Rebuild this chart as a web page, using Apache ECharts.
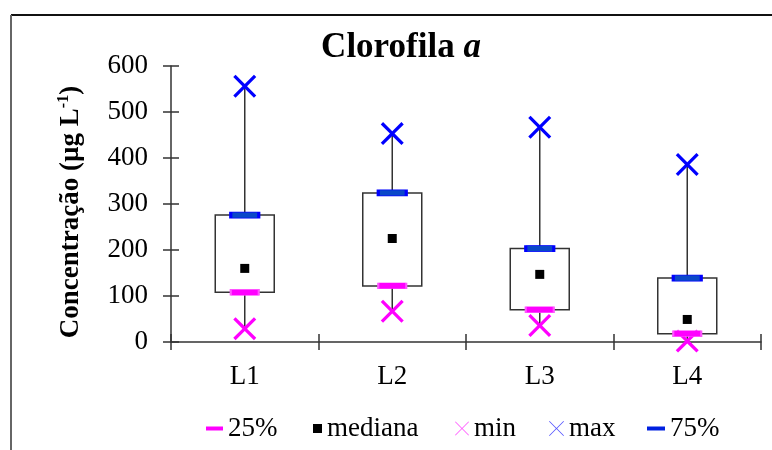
<!DOCTYPE html>
<html>
<head>
<meta charset="utf-8">
<script src="https://cdn.jsdelivr.net/npm/echarts@6/dist/echarts.min.js"></script>
<style>html,body{margin:0;padding:0;background:#fff}#c{width:772px;height:450px}</style>
</head>
<body>
<div id="c"></div>
<script>
var categories = ['L1', 'L2', 'L3', 'L4'];
var p25 = [108, 122, 70, 18];
var p75 = [276, 324, 203, 139];
var mediana = [160, 225, 147, 49];
var minV = [29, 67, 36, 2];
var maxV = [556, 453, 467, 386];
var yTicks = [0, 100, 200, 300, 400, 500, 600];

var FONT = '"Liberation Serif", "Times New Roman", serif';
var X_BIG = 'path://M0,2L2,0L10,8L18,0L20,2L12,10L20,18L18,20L10,12L2,20L0,18L8,10Z';
var X_THIN = 'path://M0,0.8L0.8,0L10,9.2L19.2,0L20,0.8L10.8,10L20,19.2L19.2,20L10,10.8L0.8,20L0,19.2L9.2,10Z';

var boxData = categories.map(function (c, i) { return [i, minV[i], p25[i], p75[i], maxV[i]]; });

var chart = echarts.init(document.getElementById('c'), null, {renderer: 'canvas'});

function legendItem(name, left, icon, w, h, color) {
  return {
    left: left, top: 415, padding: 0, itemGap: 0,
    itemWidth: w, itemHeight: h,
    data: [{name: name, icon: icon, itemStyle: {color: color, borderWidth: 0}}],
    textStyle: {fontFamily: FONT, fontSize: 27, color: '#000', padding: [0, 0, 0, 0]},
    selectedMode: false
  };
}

var option = {
  backgroundColor: '#fff',
  animation: false,
  title: {
    text: '{b|Clorofila }{i|a}',
    left: 396, top: 25, textAlign: 'center',
    textStyle: {
      rich: {
        b: {fontFamily: FONT, fontSize: 35, fontWeight: 'bold', color: '#000'},
        i: {fontFamily: FONT, fontSize: 35, fontWeight: 'bold', fontStyle: 'italic', color: '#000'}
      }
    }
  },
  graphic: [
    {type: 'line', shape: {x1: 11, y1: 15, x2: 772, y2: 15}, style: {stroke: '#111', lineWidth: 2}, silent: true},
    {type: 'line', shape: {x1: 11, y1: 15, x2: 11, y2: 450}, style: {stroke: '#666', lineWidth: 2}, silent: true}
  ],
  legend: [
    legendItem('25%', 206, 'rect', 17, 4, '#ff00ff'),
    legendItem('mediana', 313, 'rect', 9, 9, '#000'),
    legendItem('min', 455, X_THIN, 14, 14, '#ff55ff'),
    legendItem('max', 549, X_THIN, 15, 15, '#5555ff'),
    legendItem('75%', 647, 'rect', 18, 4, '#0020e0')
  ],
  grid: [
    {left: 171, right: 11, top: 66, bottom: 108},
    {left: 171, right: 11, top: 66, bottom: 108}
  ],
  xAxis: [
    {
      type: 'category', data: categories, gridIndex: 0,
      axisLine: {lineStyle: {color: '#333', width: 1.5}},
      axisTick: {show: true, length: 8, lineStyle: {color: '#333', width: 1.5}},
      axisLabel: {fontFamily: FONT, fontSize: 27, color: '#000', margin: 21},
      splitLine: {show: false}
    },
    {
      type: 'category', data: categories, gridIndex: 1,
      axisLine: {show: false},
      axisTick: {show: true, inside: true, length: 8, lineStyle: {color: '#333', width: 1.5}},
      axisLabel: {show: false},
      splitLine: {show: false}
    }
  ],
  yAxis: [
    {
      type: 'value', min: 0, max: 600, interval: 100, gridIndex: 0,
      axisLine: {show: true, lineStyle: {color: '#333', width: 1.5}},
      axisTick: {show: true, length: 8, lineStyle: {color: '#333', width: 1.5}},
      axisLabel: {fontFamily: FONT, fontSize: 27, color: '#000', margin: 23,
        formatter: function (v) { return yTicks.indexOf(v) >= 0 ? String(v) : ''; }},
      splitLine: {show: false},
      name: '{a|Concentração (µg L}{s|-1}{a|)}',
      nameLocation: 'middle', nameRotate: 90, nameGap: 85,
      nameTextStyle: {
        padding: [0, 16, 0, 0],
        rich: {
          a: {fontFamily: FONT, fontSize: 27, fontWeight: 'bold', color: '#000', lineHeight: 30},
          s: {fontFamily: FONT, fontSize: 16, fontWeight: 'bold', color: '#000', verticalAlign: 'top', lineHeight: 30}
        }
      }
    },
    {
      type: 'value', min: 0, max: 600, interval: 100, gridIndex: 1,
      axisLine: {show: false},
      axisTick: {show: true, inside: true, length: 8, lineStyle: {color: '#333', width: 1.5}},
      axisLabel: {show: false},
      splitLine: {show: false}
    }
  ],
  series: [
    {
      type: 'custom', name: 'box', xAxisIndex: 0, yAxisIndex: 0, z: 1,
      data: boxData,
      encode: {x: 0, y: [1, 2, 3, 4]},
      renderItem: function (params, api) {
        var i = api.value(0);
        var pMin = api.coord([i, api.value(1)]);
        var pQ1 = api.coord([i, api.value(2)]);
        var pQ3 = api.coord([i, api.value(3)]);
        var pMax = api.coord([i, api.value(4)]);
        var w = api.size([1, 0])[0] * 0.4;
        var st = {stroke: '#333', lineWidth: 1.5, fill: null};
        return {
          type: 'group',
          children: [
            {type: 'line', shape: {x1: pMax[0], y1: pMax[1], x2: pQ3[0], y2: pQ3[1]}, style: st},
            {type: 'line', shape: {x1: pQ1[0], y1: pQ1[1], x2: pMin[0], y2: pMin[1]}, style: st},
            {type: 'rect', shape: {x: pQ3[0] - w / 2, y: pQ3[1], width: w, height: pQ1[1] - pQ3[1]},
              style: {stroke: '#333', lineWidth: 1.5, fill: 'rgba(0,0,0,0)'}}
          ]
        };
      }
    },
    {
      type: 'scatter', name: 'min', data: minV, z: 3,
      symbol: X_BIG, symbolSize: 23,
      itemStyle: {color: '#ff00ff', opacity: 1}
    },
    {
      type: 'scatter', name: '25%', data: p25, z: 4,
      symbol: 'rect', symbolSize: [28, 6],
      itemStyle: {color: '#ff00ff', borderColor: '#ff55ff', borderWidth: 1, opacity: 1}
    },
    {
      type: 'scatter', name: 'mediana', data: mediana, z: 4,
      symbol: 'rect', symbolSize: 9,
      itemStyle: {color: '#000', opacity: 1}
    },
    {
      type: 'scatter', name: '75%', data: p75, z: 4,
      symbol: 'rect', symbolSize: [28, 6],
      itemStyle: {color: '#0a48c8', borderColor: '#0000ff', borderWidth: 1.5, opacity: 1}
    },
    {
      type: 'scatter', name: 'max', data: maxV, z: 3,
      symbol: X_BIG, symbolSize: 23,
      itemStyle: {color: '#0000ff', opacity: 1}
    }
  ]
};
chart.setOption(option);
</script>
</body>
</html>
